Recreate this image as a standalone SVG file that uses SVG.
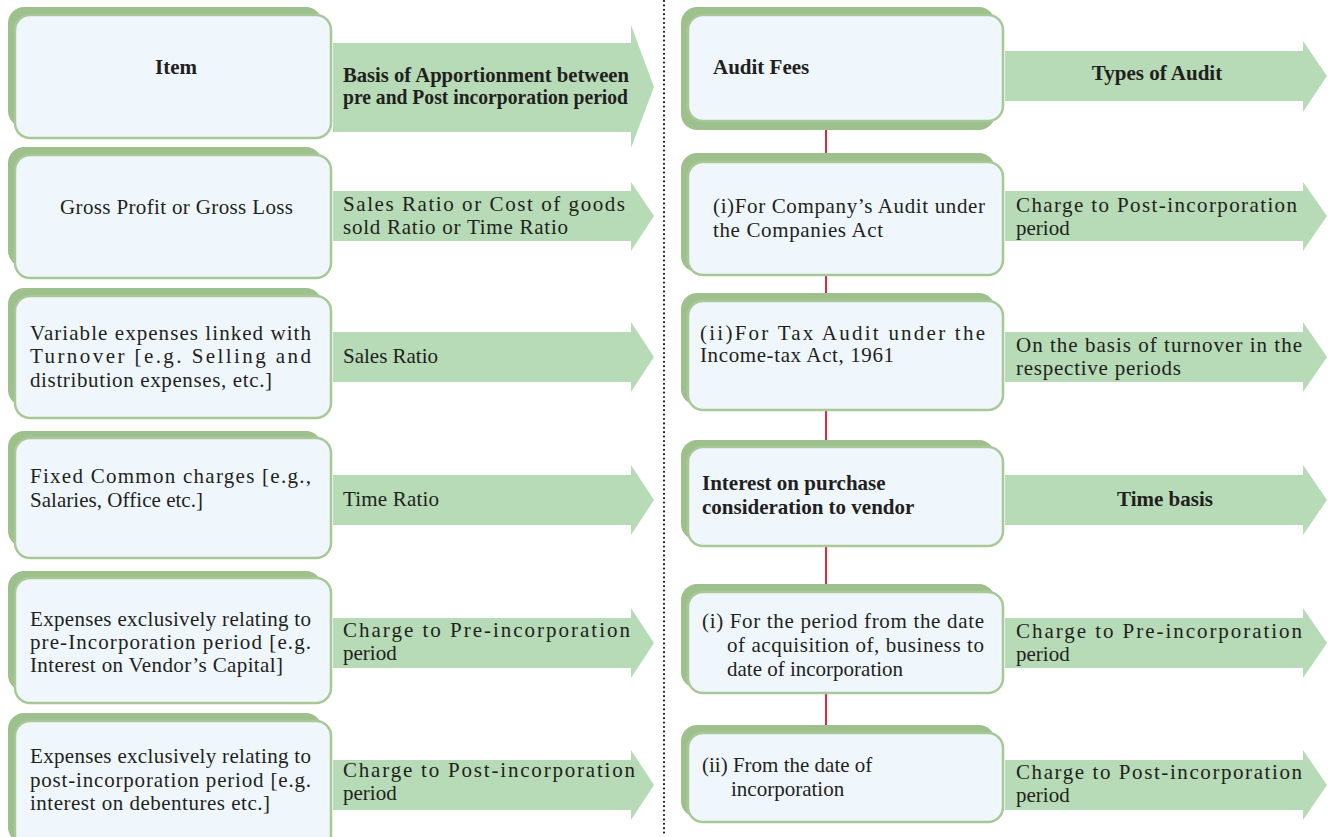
<svg xmlns="http://www.w3.org/2000/svg" width="1334" height="837" viewBox="0 0 1334 837">
  <style>
    .back { fill: #9ec08c; }
    .front { fill: #eff7fd; stroke: #a8c898; stroke-width: 2.5; }
    .arrow { fill: #b6dbb6; }
    .t { font-family: "Liberation Serif", "Times New Roman", serif; font-size: 21px; fill: #231f20; }
    .b { font-weight: bold; }
    .link { stroke: #e2283a; stroke-width: 2; fill: none; }
    .divider { stroke: #231f20; stroke-width: 2.2; stroke-dasharray: 0 4.4; stroke-linecap: round; fill: none; }
  </style>

  <rect width="1334" height="837" fill="#ffffff"/>

  <!-- dotted column divider -->
  <line class="divider" x1="664" y1="1" x2="664" y2="837"/>

  <!-- connectors between the audit/interest items -->
  <g id="connectors">
    <line class="link" x1="826" y1="128" x2="826" y2="156"/>
    <line class="link" x1="826" y1="274" x2="826" y2="296"/>
    <line class="link" x1="826" y1="409" x2="826" y2="443"/>
    <line class="link" x1="826" y1="545" x2="826" y2="587"/>
    <line class="link" x1="826" y1="692" x2="826" y2="728"/>
  </g>

  <!-- ===== left column ===== -->
  <g id="arrow-basis">
    <polygon class="arrow" points="333,43 631,43 631,25 654,87 631,148 631,132 333,132"/>
    <text class="t b" x="343" y="82" textLength="286" lengthAdjust="spacingAndGlyphs">Basis of Apportionment between</text>
    <text class="t b" x="343" y="104" textLength="285" lengthAdjust="spacingAndGlyphs">pre and Post incorporation period</text>
  </g>
  <g id="item">
    <rect class="back" x="8" y="7" width="314" height="120" rx="16"/>
    <rect class="front" x="15" y="15" width="316" height="123" rx="15"/>
    <text class="t b" x="176" y="74" text-anchor="middle">Item</text>
  </g>

  <g id="arrow-gross">
    <polygon class="arrow" points="333,191 631,191 631,182 654,216 631,251 631,241 333,241"/>
    <text class="t" x="343" y="211" textLength="282" lengthAdjust="spacing">Sales Ratio or Cost of goods</text>
    <text class="t" x="343" y="234" textLength="225" lengthAdjust="spacing">sold Ratio or Time Ratio</text>
  </g>
  <g id="gross-profit">
    <rect class="back" x="8" y="147" width="314" height="120" rx="16"/>
    <rect class="front" x="15" y="155" width="316" height="123" rx="15"/>
    <text class="t" x="60" y="214" textLength="233" lengthAdjust="spacing">Gross Profit or Gross Loss</text>
  </g>

  <g id="arrow-variable">
    <polygon class="arrow" points="333,332 631,332 631,322 654,357 631,392 631,382 333,382"/>
    <text class="t" x="343" y="363" textLength="95" lengthAdjust="spacing">Sales Ratio</text>
  </g>
  <g id="variable-expenses">
    <rect class="back" x="8" y="288" width="314" height="118" rx="16"/>
    <rect class="front" x="15" y="296" width="316" height="122" rx="15"/>
    <text class="t" x="30" y="340" textLength="281" lengthAdjust="spacing">Variable expenses linked with</text>
    <text class="t" x="30" y="363" textLength="281" lengthAdjust="spacing">Turnover [e.g. Selling and</text>
    <text class="t" x="30" y="387" textLength="242" lengthAdjust="spacing">distribution expenses, etc.]</text>
  </g>

  <g id="arrow-fixed">
    <polygon class="arrow" points="333,475 631,475 631,465 654,500 631,535 631,525 333,525"/>
    <text class="t" x="343" y="506" textLength="96" lengthAdjust="spacing">Time Ratio</text>
  </g>
  <g id="fixed-charges">
    <rect class="back" x="8" y="431" width="314" height="116" rx="16"/>
    <rect class="front" x="15" y="438" width="316" height="120" rx="15"/>
    <text class="t" x="30" y="483" textLength="281" lengthAdjust="spacing">Fixed Common charges [e.g.,</text>
    <text class="t" x="30" y="507" textLength="173" lengthAdjust="spacing">Salaries, Office etc.]</text>
  </g>

  <g id="arrow-pre">
    <polygon class="arrow" points="333,618 631,618 631,608 654,643 631,678 631,668 333,668"/>
    <text class="t" x="343" y="637" textLength="287" lengthAdjust="spacing">Charge to Pre-incorporation</text>
    <text class="t" x="343" y="660">period</text>
  </g>
  <g id="pre-expenses">
    <rect class="back" x="8" y="571" width="314" height="120" rx="16"/>
    <rect class="front" x="15" y="578" width="316" height="125" rx="15"/>
    <text class="t" x="30" y="626" textLength="281" lengthAdjust="spacing">Expenses exclusively relating to</text>
    <text class="t" x="30" y="649" textLength="281" lengthAdjust="spacing">pre-Incorporation period [e.g.</text>
    <text class="t" x="30" y="672" textLength="253" lengthAdjust="spacing">Interest on Vendor’s Capital]</text>
  </g>

  <g id="arrow-post">
    <polygon class="arrow" points="333,760 631,760 631,750 654,785 631,820 631,810 333,810"/>
    <text class="t" x="343" y="777" textLength="292" lengthAdjust="spacing">Charge to Post-incorporation</text>
    <text class="t" x="343" y="800">period</text>
  </g>
  <g id="post-expenses">
    <rect class="back" x="8" y="713" width="314" height="130" rx="16"/>
    <rect class="front" x="15" y="721" width="316" height="130" rx="15"/>
    <text class="t" x="30" y="763" textLength="281" lengthAdjust="spacing">Expenses exclusively relating to</text>
    <text class="t" x="30" y="787" textLength="281" lengthAdjust="spacing">post-incorporation period [e.g.</text>
    <text class="t" x="30" y="810" textLength="240" lengthAdjust="spacing">interest on debentures etc.]</text>
  </g>

  <!-- ===== right column ===== -->
  <g id="arrow-types">
    <polygon class="arrow" points="1005,51 1303,51 1303,41 1327,76 1303,112 1303,101 1005,101"/>
    <text class="t b" x="1157" y="80" text-anchor="middle">Types of Audit</text>
  </g>
  <g id="audit-fees">
    <rect class="back" x="681" y="7" width="314" height="123" rx="16"/>
    <rect class="front" x="688" y="15" width="315" height="106" rx="15"/>
    <text class="t b" x="713" y="74">Audit Fees</text>
  </g>

  <g id="arrow-company-audit">
    <polygon class="arrow" points="1005,191 1303,191 1303,182 1327,216 1303,251 1303,241 1005,241"/>
    <text class="t" x="1016" y="212" textLength="281" lengthAdjust="spacing">Charge to Post-incorporation</text>
    <text class="t" x="1016" y="235">period</text>
  </g>
  <g id="company-audit">
    <rect class="back" x="681" y="153" width="314" height="119" rx="16"/>
    <rect class="front" x="688" y="162" width="315" height="113" rx="15"/>
    <text class="t" x="713" y="213" textLength="272" lengthAdjust="spacing">(i)For Company’s Audit under</text>
    <text class="t" x="713" y="237" textLength="170" lengthAdjust="spacing">the Companies Act</text>
  </g>

  <g id="arrow-tax-audit">
    <polygon class="arrow" points="1005,332 1303,332 1303,322 1327,357 1303,392 1303,382 1005,382"/>
    <text class="t" x="1016" y="352" textLength="286" lengthAdjust="spacing">On the basis of turnover in the</text>
    <text class="t" x="1016" y="375" textLength="165" lengthAdjust="spacing">respective periods</text>
  </g>
  <g id="tax-audit">
    <rect class="back" x="681" y="293" width="314" height="112" rx="16"/>
    <rect class="front" x="688" y="301" width="315" height="109" rx="15"/>
    <text class="t" x="700" y="340" textLength="285" lengthAdjust="spacing">(ii)For Tax Audit under the</text>
    <text class="t" x="700" y="362" textLength="194" lengthAdjust="spacing">Income-tax Act, 1961</text>
  </g>

  <g id="arrow-time-basis">
    <polygon class="arrow" points="1005,475 1303,475 1303,465 1327,500 1303,535 1303,525 1005,525"/>
    <text class="t b" x="1165" y="506" text-anchor="middle">Time basis</text>
  </g>
  <g id="interest-vendor">
    <rect class="back" x="681" y="440" width="314" height="100" rx="16"/>
    <rect class="front" x="688" y="447" width="315" height="99" rx="15"/>
    <text class="t b" x="702" y="490">Interest on purchase</text>
    <text class="t b" x="702" y="514">consideration to vendor</text>
  </g>

  <g id="arrow-acquisition">
    <polygon class="arrow" points="1005,618 1303,618 1303,608 1327,643 1303,678 1303,668 1005,668"/>
    <text class="t" x="1016" y="638" textLength="286" lengthAdjust="spacing">Charge to Pre-incorporation</text>
    <text class="t" x="1016" y="661">period</text>
  </g>
  <g id="acquisition-period">
    <rect class="back" x="681" y="584" width="314" height="104" rx="16"/>
    <rect class="front" x="688" y="592" width="315" height="101" rx="15"/>
    <text class="t" x="702" y="628" textLength="282" lengthAdjust="spacing">(i) For the period from the date</text>
    <text class="t" x="727" y="652" textLength="257" lengthAdjust="spacing">of acquisition of, business to</text>
    <text class="t" x="727" y="676">date of incorporation</text>
  </g>

  <g id="arrow-incorporation">
    <polygon class="arrow" points="1005,760 1303,760 1303,750 1327,785 1303,820 1303,810 1005,810"/>
    <text class="t" x="1016" y="779" textLength="286" lengthAdjust="spacing">Charge to Post-incorporation</text>
    <text class="t" x="1016" y="802">period</text>
  </g>
  <g id="from-incorporation">
    <rect class="back" x="681" y="725" width="314" height="92" rx="16"/>
    <rect class="front" x="688" y="733" width="315" height="89" rx="15"/>
    <text class="t" x="702" y="772">(ii) From the date of</text>
    <text class="t" x="731" y="796">incorporation</text>
  </g>
</svg>
